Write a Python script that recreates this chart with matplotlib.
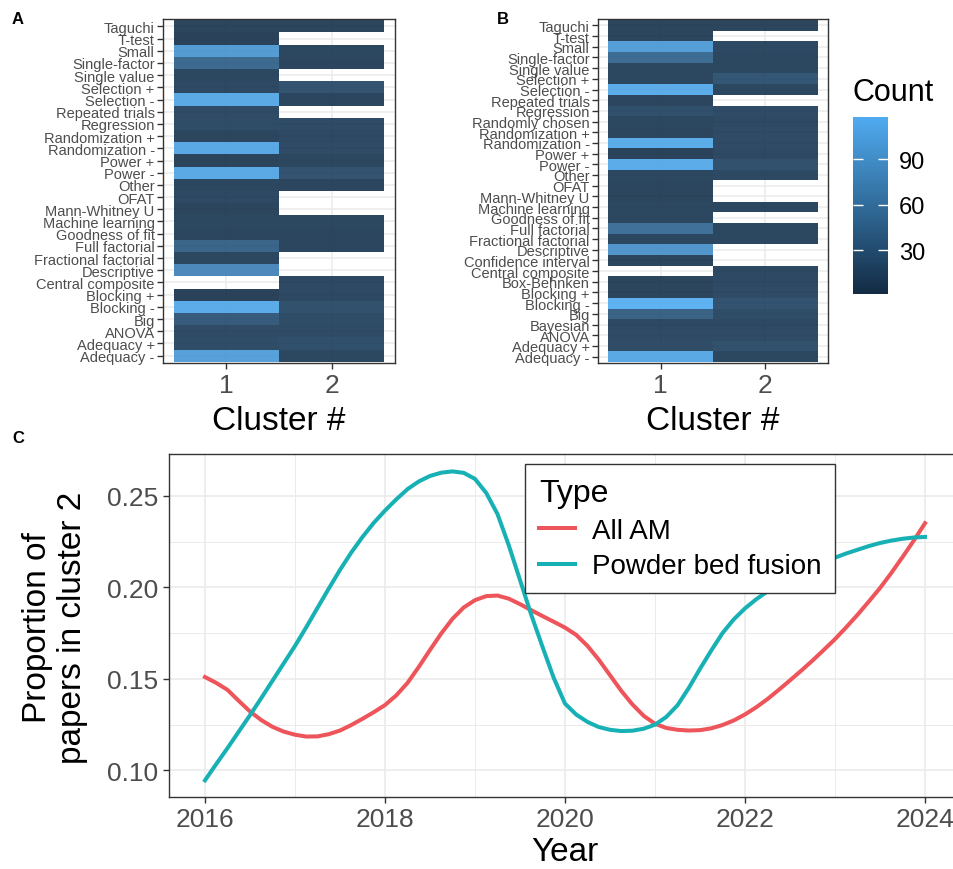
import numpy as np
import matplotlib
matplotlib.use("Agg")
import matplotlib.pyplot as plt
from matplotlib.colors import LinearSegmentedColormap, Normalize
from matplotlib.cm import ScalarMappable

plt.rcParams['font.family'] = ['Liberation Sans', 'DejaVu Sans']

nan = np.nan

# heatmap A (rows listed top to bottom)
cats_a = ["Taguchi", "T-test", "Small", "Single-factor", "Single value", "Selection +",
          "Selection -", "Repeated trials", "Regression", "Randomization +", "Randomization -",
          "Power +", "Power -", "Other", "OFAT", "Mann-Whitney U", "Machine learning",
          "Goodness of fit", "Full factorial", "Fractional factorial", "Descriptive",
          "Central composite", "Blocking +", "Blocking -", "Big", "ANOVA", "Adequacy +",
          "Adequacy -"]
clus1_a = [8, 6, 95, 45, 10, 12, 110, 14, 16, 9, 108, 7, 110, 10,
           12, 8, 10, 9, 40, 10, 78, nan, 6, 112, 30, 14, 16, 100]
clus2_a = [8, nan, 10, 9, nan, 22, 9, nan, 14, 12, 14, 10, 22, 9,
           nan, nan, 10, 9, 9, nan, nan, 12, 12, 20, 16, 14, 18, 10]

# heatmap B
cats_b = ["Taguchi", "T-test", "Small", "Single-factor", "Single value", "Selection +",
          "Selection -", "Repeated trials", "Regression", "Randomly chosen", "Randomization +",
          "Randomization -", "Power +", "Power -", "Other", "OFAT", "Mann-Whitney U",
          "Machine learning", "Goodness of fit", "Full factorial", "Fractional factorial",
          "Descriptive", "Confidence interval", "Central composite", "Box-Behnken",
          "Blocking +", "Blocking -", "Big", "Bayesian", "ANOVA", "Adequacy +", "Adequacy -"]
clus1_b = [8, 8, 98, 48, 10, 10, 112, 9, 18, 10, 9, 112, 6, 112, 10, 9,
           8, 10, 10, 52, 10, 90, 8, nan, 8, 8, 118, 38, 12, 14, 16, 108]
clus2_b = [8, nan, 12, 10, 10, 26, 10, nan, 14, 12, 14, 14, 12, 20, 12, nan,
           nan, 10, nan, 10, 10, nan, nan, 12, 12, 14, 22, 16, 12, 14, 20, 10]
count_min, count_max = 1, 118

# panel C, every eighth of a year
years = [2016.0, 2016.125, 2016.25, 2016.375, 2016.5, 2016.625, 2016.75, 2016.875,
         2017.0, 2017.125, 2017.25, 2017.375, 2017.5, 2017.625, 2017.75, 2017.875,
         2018.0, 2018.125, 2018.25, 2018.375, 2018.5, 2018.625, 2018.75, 2018.875,
         2019.0, 2019.125, 2019.25, 2019.375, 2019.5, 2019.625, 2019.75, 2019.875,
         2020.0, 2020.125, 2020.25, 2020.375, 2020.5, 2020.625, 2020.75, 2020.875,
         2021.0, 2021.125, 2021.25, 2021.375, 2021.5, 2021.625, 2021.75, 2021.875,
         2022.0, 2022.125, 2022.25, 2022.375, 2022.5, 2022.625, 2022.75, 2022.875,
         2023.0, 2023.125, 2023.25, 2023.375, 2023.5, 2023.625, 2023.75, 2023.875,
         2024.0]
all_am = [0.1510, 0.1478, 0.1440, 0.1380, 0.1322, 0.1275, 0.1238, 0.1212,
          0.1195, 0.1185, 0.1186, 0.1198, 0.1218, 0.1248, 0.1282, 0.1318,
          0.1357, 0.1410, 0.1478, 0.1565, 0.1658, 0.1748, 0.1828, 0.1890,
          0.1930, 0.1952, 0.1955, 0.1938, 0.1908, 0.1875, 0.1843, 0.1812,
          0.1780, 0.1740, 0.1680, 0.1605, 0.1520, 0.1435, 0.1360, 0.1298,
          0.1255, 0.1232, 0.1222, 0.1218, 0.1220, 0.1230, 0.1248, 0.1273,
          0.1306, 0.1345, 0.1390, 0.1440, 0.1492, 0.1545, 0.1600, 0.1658,
          0.1717, 0.1782, 0.1850, 0.1922, 0.1996, 0.2078, 0.2165, 0.2255,
          0.2350]
pbf = [0.0946, 0.1035, 0.1122, 0.1212, 0.1302, 0.1395, 0.1490, 0.1585,
       0.1680, 0.1782, 0.1888, 0.1993, 0.2095, 0.2190, 0.2275, 0.2352,
       0.2419, 0.2480, 0.2536, 0.2578, 0.2608, 0.2626, 0.2633, 0.2625,
       0.2592, 0.2515, 0.2400, 0.2230, 0.2040, 0.1850, 0.1675, 0.1505,
       0.1365, 0.1305, 0.1265, 0.1237, 0.1222, 0.1215, 0.1217, 0.1228,
       0.1250, 0.1292, 0.1356, 0.1450, 0.1555, 0.1655, 0.1750, 0.1825,
       0.1885, 0.1935, 0.1978, 0.2015, 0.2050, 0.2082, 0.2112, 0.2138,
       0.2162, 0.2185, 0.2205, 0.2225, 0.2242, 0.2255, 0.2265, 0.2272,
       0.2275]

W, H = 954, 870
fig = plt.figure(figsize=(W / 100, H / 100), dpi=100)


def px_axes(left, top, right, bottom):
    return fig.add_axes([left / W, 1 - bottom / H, (right - left) / W, (bottom - top) / H])


cmap = LinearSegmentedColormap.from_list("gg", ["#132B43", "#4FABF0"])
norm = Normalize(count_min, count_max)
grey30 = "#4D4D4D"
grey20 = "#333333"
grid_col = "#EBEBEB"


def heatmap(ax, cats, c1, c2):
    n = len(cats)
    vals = np.array([c1[::-1], c2[::-1]], dtype=float).T
    data = np.ma.masked_invalid(vals)
    xe = np.array([0.5, 1.5, 2.5])
    ye = np.arange(n + 1) + 0.5
    ax.pcolormesh(xe, ye, data, cmap=cmap, norm=norm, alpha=0.91, zorder=2)
    ax.set_xlim(0.4, 2.6)
    ax.set_ylim(0.4, n + 0.6)
    ax.set_yticks(np.arange(1, n + 1))
    ax.set_yticklabels(cats[::-1], fontsize=10.5, color=grey30)
    ax.set_xticks([1, 2])
    ax.set_xticklabels(["1", "2"], fontsize=19, color=grey30)
    ax.tick_params(color=grey20, length=4, width=1)
    ax.tick_params(axis='y', pad=2)
    ax.tick_params(axis='x', pad=3)
    ax.grid(True, color=grid_col, lw=1.1, zorder=0)
    ax.set_axisbelow(True)
    for s in ax.spines.values():
        s.set_color(grey20)
        s.set_linewidth(1)


ax_a = px_axes(163, 20, 395, 364)
heatmap(ax_a, cats_a, clus1_a, clus2_a)
ax_b = px_axes(598, 20, 828, 364)
heatmap(ax_b, cats_b, clus1_b, clus2_b)

fig.text(279 / W, 1 - 422 / H, "Cluster #", fontsize=24, ha='center', va='center')
fig.text(713 / W, 1 - 422 / H, "Cluster #", fontsize=24, ha='center', va='center')

# colorbar
cax = px_axes(853, 118, 888, 295)
cb = fig.colorbar(ScalarMappable(norm=norm, cmap=cmap), cax=cax)
cb.outline.set_visible(False)
cb.set_ticks([30, 60, 90])
cax.tick_params(direction='in', colors='white', length=7, width=1, left=True, right=True,
                labelsize=17, labelcolor='black', pad=8)
fig.text(853 / W, 1 - 93 / H, "Count", fontsize=22, ha='left', va='center')

# panel C
ax_c = px_axes(169, 455, 961, 798)
red = "#EE555B"
teal = "#17B1B5"
ax_c.plot(years, all_am, color=red, lw=2.9, label="All AM", zorder=3)
ax_c.plot(years, pbf, color=teal, lw=2.9, label="Powder bed fusion", zorder=3)
ax_c.set_xlim(2015.6, 2024.4)
ax_c.set_ylim(0.0855, 0.2728)
ax_c.set_xticks([2016, 2018, 2020, 2022, 2024])
ax_c.set_xticks([2017, 2019, 2021, 2023], minor=True)
ax_c.set_yticks([0.10, 0.15, 0.20, 0.25])
ax_c.set_yticklabels(["0.10", "0.15", "0.20", "0.25"])
ax_c.set_yticks([0.125, 0.175, 0.225], minor=True)
ax_c.tick_params(labelsize=19, labelcolor=grey30, color=grey20, length=4, width=1)
ax_c.tick_params(which='minor', length=0)
ax_c.grid(True, which='major', color=grid_col, lw=1.2)
ax_c.grid(True, which='minor', color=grid_col, lw=0.7)
ax_c.set_axisbelow(True)
for s in ax_c.spines.values():
    s.set_color(grey20)
    s.set_linewidth(1)

leg = ax_c.legend(title="Type", loc='upper left', bbox_to_anchor=(0.4495, 0.971),
                  borderaxespad=0, fontsize=20, title_fontsize=23, fancybox=False,
                  framealpha=1, edgecolor=grey20, handlelength=1.3, handletextpad=0.6,
                  borderpad=0.5, labelspacing=0.35)
leg._legend_box.align = "left"
leg.get_frame().set_linewidth(1)
leg.set_zorder(5)

fig.text(55 / W, 1 - 628 / H, "Proportion of\npapers in cluster 2", fontsize=24,
         rotation=90, ha='center', va='center', linespacing=1.15)
fig.text(565 / W, 1 - 853 / H, "Year", fontsize=24, ha='center', va='center')

# panel letters
fig.text(12 / W, 1 - 19 / H, "A", fontsize=12, fontweight='bold', va='center')
fig.text(497 / W, 1 - 19 / H, "B", fontsize=12, fontweight='bold', va='center')
fig.text(12 / W, 1 - 439 / H, "C", fontsize=12, fontweight='bold', va='center')

fig.savefig("out.png", dpi=100)
